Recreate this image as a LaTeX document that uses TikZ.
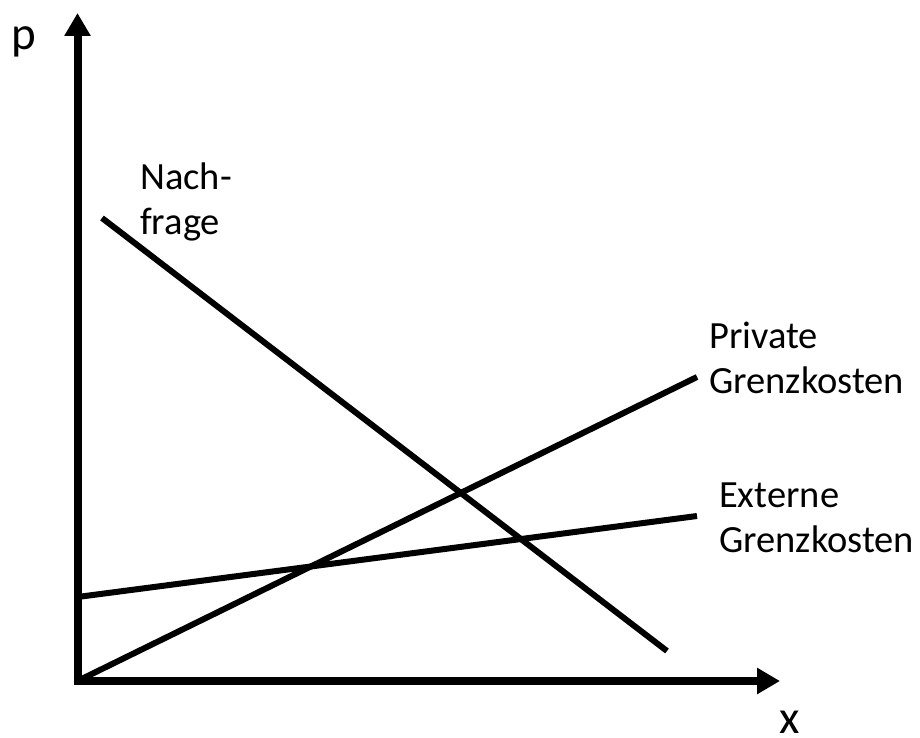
\documentclass[tikz,border=0pt]{standalone}
\usepackage{fontspec}
\setmainfont{Carlito}
\usetikzlibrary{arrows.meta}
\begin{document}
\begin{tikzpicture}[x=1pt,y=-1pt,
  axis/.style={line width=8pt,-{Triangle[length=23pt,width=25pt]}},
  curve/.style={line width=6pt},
  lbl/.style={font=\fontsize{38.5}{45}\selectfont,inner sep=0pt,align=left,anchor=base west},
  axlbl/.style={font=\fontsize{47}{56}\selectfont,inner sep=0pt,anchor=base west}]
\useasboundingbox (0,0) rectangle (920,738);
\coordinate (O) at (77.5,681);
\coordinate (ytop) at (77.5,13);
\coordinate (xend) at (780,681);
\coordinate (ycorner) at (77.5,685);
\coordinate (xcorner) at (73.5,681);
\draw[axis] (ycorner) -- (ytop);
\draw[axis] (xcorner) -- (xend);
\coordinate (n1) at (102,218);
\coordinate (n2) at (667,651);
\coordinate (p2) at (697,377);
\coordinate (e1) at (77.5,597);
\coordinate (e2) at (697,516);
\draw[curve] (n1) -- (n2);
\draw[curve] (O) -- (p2);
\draw[curve] (e1) -- (e2);
\node[axlbl] (plbl) at (11,50) {p};
\node[axlbl] (xlbl) at (779,733) {x};
\node[lbl] (nach) at (140,234) {Nach-\\frage};
\node[lbl] (priv) at (709,393) {Private\\Grenzkosten};
\node[lbl] (ext) at (719,552) {Externe\\Grenzkosten};
\end{tikzpicture}
\end{document}
